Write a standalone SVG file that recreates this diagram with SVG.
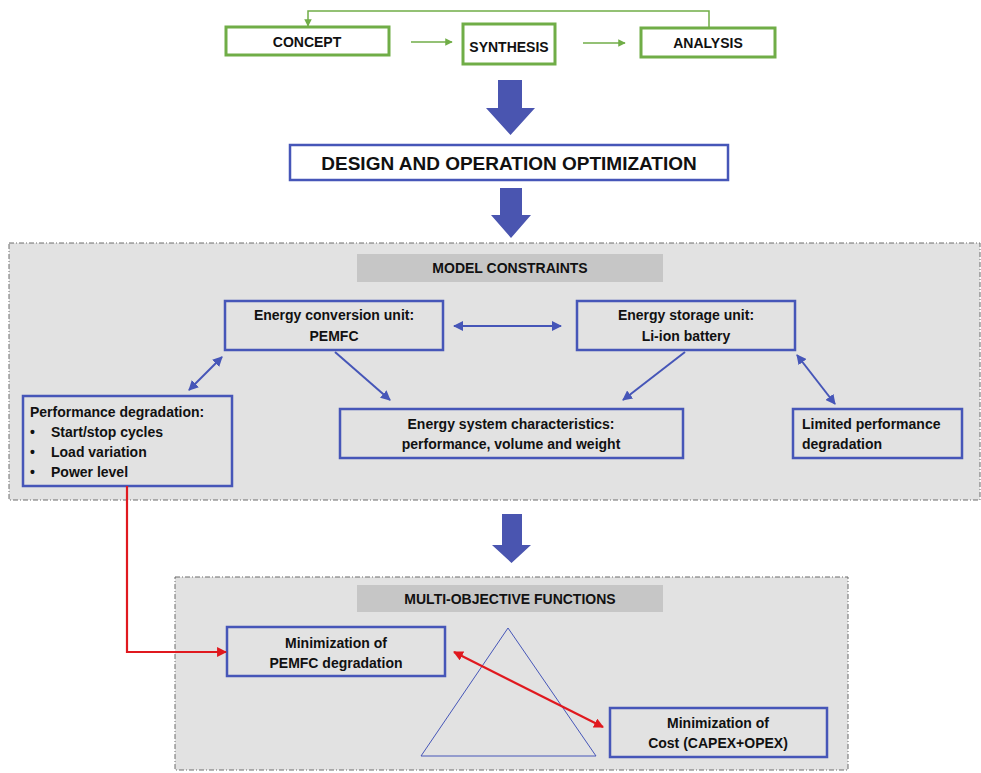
<svg xmlns="http://www.w3.org/2000/svg" width="981" height="773" viewBox="0 0 981 773">
<defs>
<style>
text{font-family:"Liberation Sans",Arial,sans-serif;font-weight:bold;font-size:14px;fill:#111}
.gbox{fill:#fff;stroke:#70ad47;stroke-width:3}
.bbox{fill:none;stroke:#4656b8;stroke-width:2.5}
.panel{fill:#e2e2e2;stroke:#6d6d6d;stroke-width:1;stroke-dasharray:5 2 1 2}
.hdr{fill:#c6c6c6}
.bl{stroke:#4656b8;stroke-width:2;fill:none}
.gl{stroke:#70ad47;stroke-width:1.5;fill:none}
.rl{stroke:#e0191f;stroke-width:2.2;fill:none}
.big{fill:#4a55b0}
</style>
<marker id="ab" viewBox="0 0 10 10" refX="9" refY="5" markerWidth="5" markerHeight="5" orient="auto-start-reverse"><path d="M0,0L10,5L0,10z" fill="#4656b8"/></marker>
<marker id="ag" viewBox="0 0 10 10" refX="9" refY="5" markerWidth="5" markerHeight="5" orient="auto-start-reverse"><path d="M0,0L10,5L0,10z" fill="#70ad47"/></marker>
<marker id="ar" viewBox="0 0 10 10" refX="9" refY="5" markerWidth="4.5" markerHeight="4.5" orient="auto-start-reverse"><path d="M0,0L10,5L0,10z" fill="#e0191f"/></marker>
</defs>
<rect width="981" height="773" fill="#fff"/>

<!-- panels -->
<rect class="panel" x="9" y="243" width="971" height="257"/>
<rect class="hdr" x="357" y="254" width="306" height="28"/>
<text x="510" y="273" text-anchor="middle">MODEL CONSTRAINTS</text>
<rect class="panel" x="175" y="577" width="673" height="193"/>
<rect class="hdr" x="357" y="585" width="306" height="27"/>
<text x="510" y="604" text-anchor="middle">MULTI-OBJECTIVE FUNCTIONS</text>

<!-- big arrows -->
<path class="big" d="M498,80H522V108H535L510.5,135L486,108H498Z"/>
<path class="big" d="M500,188H522V215H531L511,238L491,215H500Z"/>
<path class="big" d="M502,514H522V545H531L511.5,563L492,545H502Z"/>

<g id="concept"><rect class="gbox" x="226" y="27" width="163" height="28"/><text x="307" y="47" text-anchor="middle">CONCEPT</text></g>
<g id="synthesis"><rect class="gbox" x="463" y="24" width="92" height="40"/><text x="509" y="52" text-anchor="middle">SYNTHESIS</text></g>
<g id="analysis"><rect class="gbox" x="641" y="28" width="134" height="29"/><text x="708" y="48" text-anchor="middle">ANALYSIS</text></g>

<g id="design"><rect x="290" y="145" width="438" height="35" fill="#fff" stroke="#4656b8" stroke-width="2.5"/><text x="509" y="170" text-anchor="middle" style="font-size:19px">DESIGN AND OPERATION OPTIMIZATION</text></g>

<g id="pemfc"><rect class="bbox" x="225" y="301" width="218" height="49"/><text x="334" y="320" text-anchor="middle">Energy conversion unit:</text><text x="334" y="341" text-anchor="middle">PEMFC</text></g>
<g id="battery"><rect class="bbox" x="577" y="301" width="218" height="49"/><text x="686" y="320" text-anchor="middle">Energy storage unit:</text><text x="686" y="341" text-anchor="middle">Li-ion battery</text></g>
<g id="perfdeg"><rect class="bbox" x="23" y="396" width="209" height="90"/>
<text x="30" y="417">Performance degradation:</text>
<text x="30" y="437">•</text><text x="51" y="437">Start/stop cycles</text>
<text x="30" y="457">•</text><text x="51" y="457">Load variation</text>
<text x="30" y="477">•</text><text x="51" y="477">Power level</text></g>
<g id="esys"><rect class="bbox" x="340" y="409" width="343" height="49"/><text x="511" y="429" text-anchor="middle">Energy system characteristics:</text><text x="511" y="449" text-anchor="middle">performance, volume and weight</text></g>
<g id="limited"><rect class="bbox" x="793" y="409" width="169" height="49"/><text x="802" y="429">Limited performance</text><text x="802" y="449">degradation</text></g>
<g id="minpemfc"><rect class="bbox" x="227" y="627" width="218" height="49"/><text x="336" y="648" text-anchor="middle">Minimization of</text><text x="336" y="668" text-anchor="middle">PEMFC degradation</text></g>
<g id="mincost"><rect class="bbox" x="610" y="708" width="217" height="49"/><text x="718" y="728" text-anchor="middle">Minimization of</text><text x="718" y="748" text-anchor="middle">Cost (CAPEX+OPEX)</text></g>

<polygon points="508,628 421,756 596,756" fill="none" stroke="#4656b8" stroke-width="1"/>

<g id="connectors">
<path class="gl" d="M709,28V11H308V26" marker-end="url(#ag)"/>
<line class="gl" x1="411" y1="42" x2="452" y2="42" marker-end="url(#ag)"/>
<line class="gl" x1="583" y1="43" x2="625" y2="43" marker-end="url(#ag)"/>
<line class="bl" x1="454" y1="326" x2="561" y2="326" marker-start="url(#ab)" marker-end="url(#ab)"/>
<line class="bl" x1="222" y1="357" x2="189" y2="390" marker-start="url(#ab)" marker-end="url(#ab)"/>
<line class="bl" x1="335" y1="352" x2="390" y2="400" marker-end="url(#ab)"/>
<line class="bl" x1="685" y1="352" x2="623" y2="400" marker-end="url(#ab)"/>
<line class="bl" x1="797" y1="355" x2="835" y2="404" marker-start="url(#ab)" marker-end="url(#ab)"/>
<path class="rl" d="M127,486V652H226" marker-end="url(#ar)"/>
<line class="rl" x1="454" y1="652" x2="603" y2="727" marker-start="url(#ar)" marker-end="url(#ar)"/>
</g>
</svg>
